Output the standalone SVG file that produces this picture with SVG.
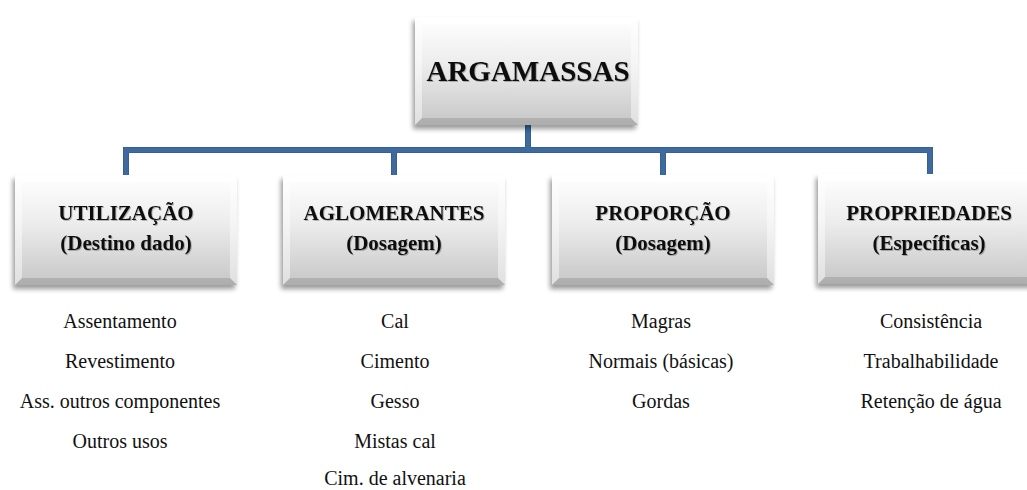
<svg xmlns="http://www.w3.org/2000/svg" width="1027" height="490" viewBox="0 0 1027 490">
  <style>
    .title { font-family: "Liberation Serif", "Times New Roman", "DejaVu Serif", serif; font-weight: bold; fill: #111; text-anchor: middle; }
    .item { font-family: "Liberation Serif", "Times New Roman", "DejaVu Serif", serif; font-size: 20px; fill: #111; text-anchor: middle; }
    .face { fill: url(#faceGrad); }
    .shadow { fill: #000; opacity: 0.4; filter: url(#soft); }
    .bevTop { fill: #fff; opacity: 0.95; }
    .bevSide { fill: #fff; opacity: 0.45; }
    .bevBot { fill: #000; opacity: 0.12; }
    .wire { fill: none; stroke: #3e6a9f; stroke-width: 5; stroke-linecap: butt; stroke-linejoin: miter; }
    .wireEdge { fill: none; stroke: #2c5688; stroke-width: 6; stroke-linejoin: miter; }
  </style>
  <defs>
    <linearGradient id="faceGrad" x1="0" y1="0" x2="0" y2="1">
      <stop offset="0" stop-color="#ffffff"/>
      <stop offset="0.45" stop-color="#ececec"/>
      <stop offset="1" stop-color="#c6c6c6"/>
    </linearGradient>
    <filter id="soft" x="-10%" y="-10%" width="120%" height="130%">
      <feGaussianBlur stdDeviation="2.5"/>
    </filter>
    <filter id="txtShadow" x="-5%" y="-20%" width="110%" height="140%">
      <feGaussianBlur in="SourceAlpha" stdDeviation="0.6"/>
      <feOffset dx="0.8" dy="1" result="s"/>
      <feComponentTransfer in="s" result="s2"><feFuncA type="linear" slope="0.25"/></feComponentTransfer>
      <feMerge><feMergeNode in="s2"/><feMergeNode in="SourceGraphic"/></feMerge>
    </filter>
  </defs>

  <!-- tree connectors -->
  <g id="connectors">
    <path class="wireEdge" d="M528,125 V150 M126,175 V150 H930 V175 M394,150 V175 M663,150 V175"/>
    <path class="wire" d="M528,125 V150 M126,175 V150 H930 V175 M394,150 V175 M663,150 V175"/>
  </g>

  <!-- root -->
  <g id="node-argamassas">
    <rect class="shadow" x="413" y="21" width="223" height="108"/>
    <rect class="face" x="415" y="17" width="223" height="108"/>
    <polygon class="bevTop" points="415,17 638,17 631,24 422,24"/>
    <polygon class="bevSide" points="415,17 422,24 422,118 415,125"/>
    <polygon class="bevSide" points="638,17 631,24 631,118 638,125"/>
    <polygon class="bevBot" points="415,125 422,118 631,118 638,125"/>
    <text class="title" x="528" y="81" font-size="29" filter="url(#txtShadow)">ARGAMASSAS</text>
  </g>

  <g id="node-utilizacao">
    <rect class="shadow" x="13" y="179" width="222" height="110"/>
    <rect class="face" x="15" y="175" width="222" height="110"/>
    <polygon class="bevTop" points="15,175 237,175 230,182 22,182"/>
    <polygon class="bevSide" points="15,175 22,182 22,278 15,285"/>
    <polygon class="bevSide" points="237,175 230,182 230,278 237,285"/>
    <polygon class="bevBot" points="15,285 22,278 230,278 237,285"/>
    <g filter="url(#txtShadow)">
      <text class="title" x="126" y="220" font-size="21">UTILIZAÇÃO</text>
      <text class="title" x="126" y="250" font-size="21">(Destino dado)</text>
    </g>
  </g>

  <g id="node-aglomerantes">
    <rect class="shadow" x="281" y="179" width="222" height="110"/>
    <rect class="face" x="283" y="175" width="222" height="110"/>
    <polygon class="bevTop" points="283,175 505,175 498,182 290,182"/>
    <polygon class="bevSide" points="283,175 290,182 290,278 283,285"/>
    <polygon class="bevSide" points="505,175 498,182 498,278 505,285"/>
    <polygon class="bevBot" points="283,285 290,278 498,278 505,285"/>
    <g filter="url(#txtShadow)">
      <text class="title" x="394" y="220" font-size="21">AGLOMERANTES</text>
      <text class="title" x="394" y="250" font-size="21">(Dosagem)</text>
    </g>
  </g>

  <g id="node-proporcao">
    <rect class="shadow" x="550" y="179" width="222" height="110"/>
    <rect class="face" x="552" y="175" width="222" height="110"/>
    <polygon class="bevTop" points="552,175 774,175 767,182 559,182"/>
    <polygon class="bevSide" points="552,175 559,182 559,278 552,285"/>
    <polygon class="bevSide" points="774,175 767,182 767,278 774,285"/>
    <polygon class="bevBot" points="552,285 559,278 767,278 774,285"/>
    <g filter="url(#txtShadow)">
      <text class="title" x="663" y="220" font-size="21">PROPORÇÃO</text>
      <text class="title" x="663" y="250" font-size="21">(Dosagem)</text>
    </g>
  </g>

  <g id="node-propriedades">
    <rect class="shadow" x="816" y="178" width="222" height="110"/>
    <rect class="face" x="818" y="174" width="222" height="110"/>
    <polygon class="bevTop" points="818,174 1040,174 1033,181 825,181"/>
    <polygon class="bevSide" points="818,174 825,181 825,277 818,284"/>
    <polygon class="bevBot" points="818,284 825,277 1033,277 1040,284"/>
    <g filter="url(#txtShadow)">
      <text class="title" x="929" y="220" font-size="21">PROPRIEDADES</text>
      <text class="title" x="929" y="250" font-size="21">(Específicas)</text>
    </g>
  </g>

  <!-- item lists under each category -->
  <g id="list-utilizacao">
    <text class="item" x="120" y="328">Assentamento</text>
    <text class="item" x="120" y="368">Revestimento</text>
    <text class="item" x="120" y="408">Ass. outros componentes</text>
    <text class="item" x="120" y="448">Outros usos</text>
  </g>
  <g id="list-aglomerantes">
    <text class="item" x="395" y="328">Cal</text>
    <text class="item" x="395" y="368">Cimento</text>
    <text class="item" x="395" y="408">Gesso</text>
    <text class="item" x="395" y="448">Mistas cal</text>
    <text class="item" x="395" y="485">Cim. de alvenaria</text>
  </g>
  <g id="list-proporcao">
    <text class="item" x="661" y="328">Magras</text>
    <text class="item" x="661" y="368">Normais (básicas)</text>
    <text class="item" x="661" y="408">Gordas</text>
  </g>
  <g id="list-propriedades">
    <text class="item" x="931" y="328">Consistência</text>
    <text class="item" x="931" y="368">Trabalhabilidade</text>
    <text class="item" x="931" y="408">Retenção de água</text>
  </g>
</svg>
